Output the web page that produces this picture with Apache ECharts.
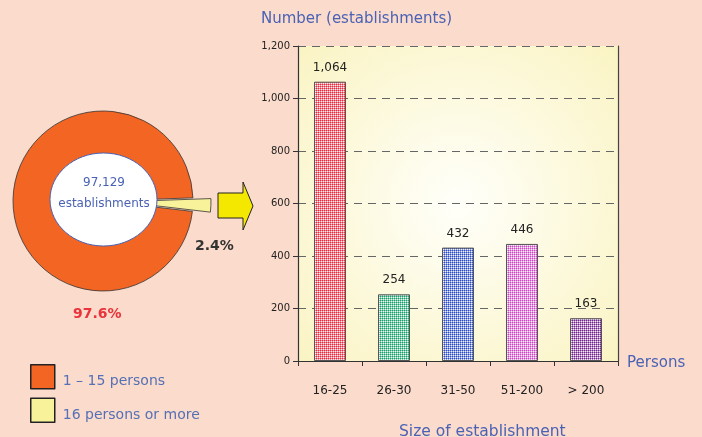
<!DOCTYPE html>
<html>
<head>
<meta charset="utf-8">
<script src="https://cdn.jsdelivr.net/npm/echarts@6/dist/echarts.min.js"></script>
<style>
html,body{margin:0;padding:0;background:#FBDBCC;}
#main{width:702px;height:437px;}
</style>
</head>
<body>
<div id="main"></div>
<script>
// ---- data ----
var sizeCategories = ['16-25', '26-30', '31-50', '51-200', '> 200'];
var establishmentCounts = [1064, 254, 432, 446, 163];
var barColors = ['#F0283E', '#1AA06C', '#2E4EC6', '#CE48C6', '#74248E'];
var yTicks = [0, 200, 400, 600, 800, 1000, 1200];
var pieNames = ['16 persons or more', '1 \u2013 15 persons'];
var pieShares = [2.4, 97.6];
var pieColors = ['#F8F39A', '#F26522'];
var totalEstablishments = '97,129';

var chart = echarts.init(document.getElementById('main'), null, {renderer: 'canvas'});

var fontFam = 'DejaVu Sans';
var blue = '#4A62B4';

function hexToRgb(h) {
  return [parseInt(h.substr(1, 2), 16), parseInt(h.substr(3, 2), 16), parseInt(h.substr(5, 2), 16)];
}
function makePattern(hex) {
  var c = document.createElement('canvas');
  c.width = 2; c.height = 2;
  var ctx = c.getContext('2d');
  var rgb = hexToRgb(hex);
  function mix(t) {
    return 'rgb(' + rgb.map(function (x) { return Math.round(x + (255 - x) * t); }).join(',') + ')';
  }
  ctx.fillStyle = mix(0); ctx.fillRect(0, 0, 1, 1);
  ctx.fillStyle = mix(0.45); ctx.fillRect(1, 0, 1, 1);
  ctx.fillStyle = mix(0.45); ctx.fillRect(0, 1, 1, 1);
  ctx.fillStyle = mix(0.92); ctx.fillRect(1, 1, 1, 1);
  return {image: c, repeat: 'repeat'};
}

var barData = establishmentCounts.map(function (v, i) {
  return {value: v, itemStyle: {color: makePattern(barColors[i])}};
});

var pieData = pieShares.map(function (v, i) {
  return {
    value: v,
    name: pieNames[i],
    selected: i === 0,
    itemStyle: {color: pieColors[i]}
  };
});

var option = {
  backgroundColor: '#FBDBCC',
  animation: false,
  textStyle: {fontFamily: fontFam},
  title: [
    {text: 'Number (establishments)', left: 256, top: 7,
     textStyle: {color: blue, fontSize: 15, fontWeight: 'normal', fontFamily: fontFam}},
    {text: 'Size of establishment', left: 394, top: 419,
     textStyle: {color: blue, fontSize: 15.5, fontWeight: 'normal', fontFamily: fontFam}},
    {text: 'Persons', left: 622, top: 351,
     textStyle: {color: blue, fontSize: 15, fontWeight: 'normal', fontFamily: fontFam}}
  ],
  legend: {
    orient: 'vertical',
    left: 25, top: 359,
    itemWidth: 24, itemHeight: 24, itemGap: 8,
    data: [pieNames[1], pieNames[0]],
    icon: 'rect',
    itemStyle: {borderColor: '#222', borderWidth: 1.5},
    formatter: function (name) { return '{t|' + name + '}'; },
    textStyle: {
      color: '#5570B4', fontSize: 14, fontFamily: fontFam,
      rich: {t: {color: '#5570B4', fontSize: 14, fontFamily: fontFam, padding: [10, 0, 0, 3]}}
    },
    selectedMode: false
  },
  grid: {
    left: 298, right: 84, top: 46, bottom: 76,
    show: true,
    borderWidth: 0,
    backgroundColor: {
      type: 'radial', x: 0.5, y: 0.5, r: 0.7,
      colorStops: [
        {offset: 0, color: '#FFFFFA'},
        {offset: 1, color: '#FAF4C4'}
      ]
    }
  },
  xAxis: {
    type: 'category',
    data: sizeCategories,
    axisLine: {lineStyle: {color: '#333', width: 1.2}},
    axisTick: {show: true, length: 5, lineStyle: {color: '#333'}},
    axisLabel: {color: '#222', fontSize: 12, margin: 24, fontFamily: fontFam}
  },
  yAxis: [{
    type: 'value',
    min: 0, max: 1200, interval: 200,
    axisLine: {show: true, lineStyle: {color: '#333', width: 1.2}},
    axisTick: {show: true, length: 5, lineStyle: {color: '#333'}},
    axisLabel: {
      color: '#222', fontSize: 10, margin: 8, fontFamily: fontFam,
      formatter: function (v) { return yTicks.indexOf(v) >= 0 ? v.toLocaleString('en-US') : ''; }
    },
    splitLine: {show: true, lineStyle: {color: '#666', type: [8, 6], width: 1}}
  }, {
    type: 'value',
    position: 'right',
    min: 0, max: 1200, interval: 200,
    axisLine: {show: true, lineStyle: {color: '#444', width: 1.2}},
    axisTick: {show: false},
    axisLabel: {show: false},
    splitLine: {show: false}
  }],
  series: [
    {
      type: 'bar',
      name: 'Establishments',
      data: barData,
      barWidth: 32,
      itemStyle: {borderColor: '#555', borderWidth: 1},
      label: {
        show: true, position: 'top', distance: 8,
        color: '#222', fontSize: 12, fontFamily: fontFam,
        formatter: function (p) { return p.value.toLocaleString('en-US'); }
      },
      emphasis: {disabled: true}
    },
    {
      type: 'pie',
      center: [103, 201],
      radius: [0, 90],
      startAngle: 2,
      clockwise: true,
      selectedMode: 'single',
      selectedOffset: 18,
      data: pieData,
      label: {show: false},
      labelLine: {show: false},
      itemStyle: {borderColor: '#333', borderWidth: 0.8},
      emphasis: {disabled: true},
      select: {itemStyle: {borderColor: '#333', borderWidth: 0.8}}
    }
  ],
  graphic: [
    {
      type: 'ellipse', z: 100,
      shape: {cx: 103.5, cy: 199.5, rx: 53.5, ry: 46.5},
      style: {fill: '#FFFFFF', stroke: '#4A62B4', lineWidth: 1}
    },
    {
      type: 'text', z: 101, x: 104, y: 183,
      style: {text: totalEstablishments, fill: blue, font: '12px "DejaVu Sans"', textAlign: 'center', textVerticalAlign: 'middle'}
    },
    {
      type: 'text', z: 101, x: 104, y: 204,
      style: {text: 'establishments', fill: blue, font: '12px "DejaVu Sans"', textAlign: 'center', textVerticalAlign: 'middle'}
    },
    {
      type: 'text', z: 101, left: 195, top: 239,
      style: {text: pieShares[0] + '%', fill: '#333', font: 'bold 14px "DejaVu Sans"'}
    },
    {
      type: 'text', z: 101, left: 73, top: 307,
      style: {text: pieShares[1] + '%', fill: '#E8343A', font: 'bold 14px "DejaVu Sans"'}
    },
    {
      type: 'polygon', z: 100,
      shape: {points: [[218, 193], [243, 193], [243, 182], [253, 206], [243, 230], [243, 218], [218, 218]]},
      style: {fill: '#F5E800', stroke: '#222', lineWidth: 1}
    }
  ]
};

chart.setOption(option);
</script>
</body>
</html>
